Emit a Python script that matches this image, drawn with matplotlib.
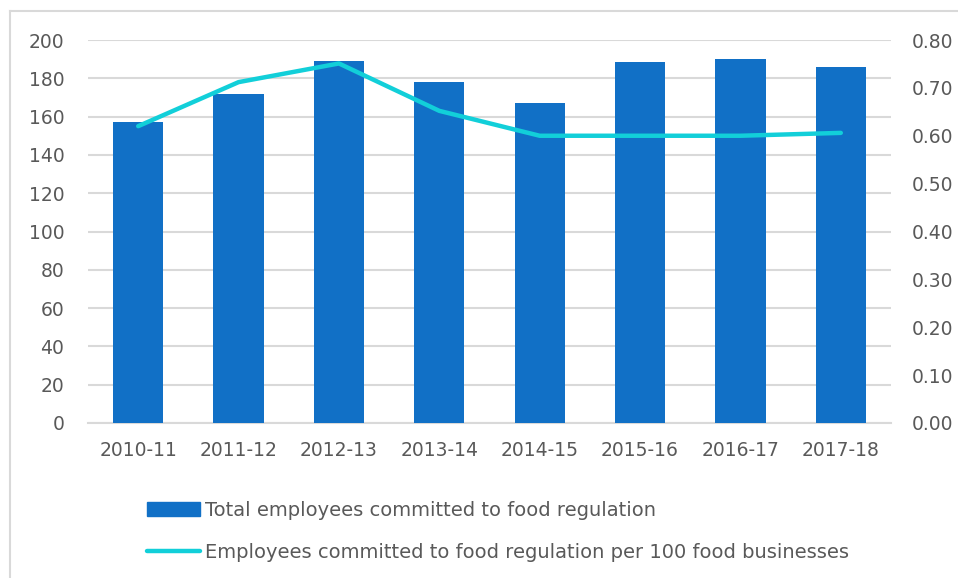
import matplotlib
matplotlib.use("Agg")
import matplotlib.pyplot as plt
from matplotlib.patches import Rectangle
from matplotlib.lines import Line2D
import numpy as np

years = ["2010-11", "2011-12", "2012-13", "2013-14", "2014-15", "2015-16", "2016-17", "2017-18"]
total_employees = [157, 172, 189, 178, 167, 188.5, 190, 186]
per_100 = [0.620, 0.712, 0.751, 0.652, 0.600, 0.600, 0.600, 0.606]
left_ticks = [0, 20, 40, 60, 80, 100, 120, 140, 160, 180, 200]
right_ticks = [0.0, 0.1, 0.2, 0.3, 0.4, 0.5, 0.6, 0.7, 0.8]

W, H = 958, 578
fig = plt.figure(figsize=(W / 100, H / 100), dpi=100)
plt.rcParams['font.family'] = ['DejaVu Sans']
txt = '#595959'
bar_c = '#1170C6'
line_c = '#12CFD9'

x0, x1, ytop, ybot = 88, 891, 40, 423
ax = fig.add_axes([x0 / W, 1 - ybot / H, (x1 - x0) / W, (ybot - ytop) / H])
x = np.arange(len(years))
ax.bar(x, total_employees, width=0.5, color=bar_c, zorder=3)
ax.set_xlim(-0.5, len(years) - 0.5)
ax.set_ylim(0, 200)
ax.set_yticks(left_ticks)
ax.set_yticklabels([str(v) for v in left_ticks])
ax.set_xticks(x)
ax.set_xticklabels(years)
ax.yaxis.grid(True, color='#D9D9D9', linewidth=1.5, zorder=0)
ax.set_axisbelow(True)
for s in ['top', 'right', 'left']:
    ax.spines[s].set_visible(False)
ax.spines['bottom'].set_color('#D9D9D9')
ax.spines['bottom'].set_linewidth(1.5)
ax.tick_params(axis='both', length=0, labelsize=13.5, colors=txt)
ax.tick_params(axis='y', pad=17)
ax.tick_params(axis='x', pad=13)

ax2 = ax.twinx()
ax2.plot(x, per_100, color=line_c, linewidth=3.2, solid_capstyle='round', solid_joinstyle='round', zorder=4)
ax2.set_ylim(0, 0.8)
ax2.set_yticks(right_ticks)
ax2.set_yticklabels([f"{v:.2f}" for v in right_ticks])
for s in ['top', 'right', 'left', 'bottom']:
    ax2.spines[s].set_visible(False)
ax2.tick_params(axis='y', length=0, labelsize=13.5, colors=txt, pad=15)

# border (top and left edges only visible)
bx, by = 10 / W, 1 - 11 / H
fig.add_artist(Line2D([bx, 1.0], [by, by], transform=fig.transFigure, color='#D9D9D9', linewidth=1.5))
fig.add_artist(Line2D([bx, bx], [0.0, by], transform=fig.transFigure, color='#D9D9D9', linewidth=1.5))

handles = [Rectangle((0, 0), 1, 1, color=bar_c),
           Line2D([0], [0], color=line_c, linewidth=3.2, solid_capstyle='round')]
labels = ["Total employees committed to food regulation",
          "Employees committed to food regulation per 100 food businesses"]
leg = fig.legend(handles, labels, loc='upper left', bbox_to_anchor=(139 / W, 1 - 493 / H),
                 frameon=False, fontsize=14, labelcolor=txt, handlelength=2.75,
                 handletextpad=0.25, labelspacing=1.2, borderaxespad=0)

fig.savefig("out.png", dpi=100)
